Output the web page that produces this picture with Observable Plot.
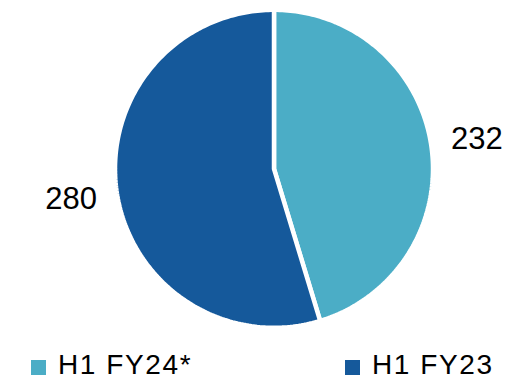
<!DOCTYPE html>
<html>
<head>
<meta charset="utf-8">
<script src="https://cdn.jsdelivr.net/npm/d3@7"></script>
<script src="https://cdn.jsdelivr.net/npm/@observablehq/plot@0.6"></script>
<style>
  html, body { margin: 0; padding: 0; background: #fff; }
  #chart { width: 506px; height: 381px; position: relative; overflow: hidden; font-family: "Liberation Sans", Arial, sans-serif; }
  .legend { position: absolute; left: 0; top: 349px; width: 506px; height: 32px; }
  .item { position: absolute; top: 0; display: flex; align-items: center; height: 32px; line-height: 32px; font-size: 28px; letter-spacing: 1.6px; color: #000; }
  .swatch { width: 15px; height: 15px; margin-right: 12px; margin-top: 4px; }
</style>
</head>
<body>
<div id="chart"></div>
<script>
// Half-year totals
const periods = ["H1 FY24*", "H1 FY23"];
const totals = [232, 280];
const colors = ["#4BADC6", "#15599B"];

const data = periods.map((p, i) => ({period: p, value: totals[i], color: colors[i]}));

// Slice angles, clockwise from 12 o'clock, in the original order
const arcs = d3.pie().value(d => d.value).sort(null)(data);

// Each slice as a closed outline in unit-circle coordinates
const outline = [];
arcs.forEach(a => {
  const steps = Math.max(2, Math.ceil((a.endAngle - a.startAngle) / (Math.PI / 180)));
  outline.push({period: a.data.period, x: 0, y: 0});
  for (let k = 0; k <= steps; k++) {
    const t = a.startAngle + (a.endAngle - a.startAngle) * k / steps;
    outline.push({period: a.data.period, x: Math.sin(t), y: Math.cos(t)});
  }
});

// Value labels just outside each slice
const labelR = 1.29;
const labels = arcs.map(a => {
  const m = (a.startAngle + a.endAngle) / 2;
  return {text: String(a.data.value), x: Math.sin(m) * labelR, y: Math.cos(m) * labelR};
});

const plot = Plot.plot({
  width: 506,
  height: 340,
  margin: 0,
  x: {domain: [-1, 1], range: [114.5, 432.5], axis: null},
  y: {domain: [-1, 1], range: [327.3, 9.3], axis: null},
  color: {domain: periods, range: colors},
  marks: [
    Plot.line(outline, {
      x: "x", y: "y", z: "period", fill: "period",
      stroke: "white", strokeWidth: 4.5, curve: "linear-closed", strokeLinejoin: "miter"
    }),
    Plot.text(labels, {
      x: "x", y: "y", text: "text",
      fontSize: 31, fill: "#000", fontFamily: "Liberation Sans, Arial, sans-serif"
    })
  ]
});

const chart = document.getElementById("chart");
chart.appendChild(plot);

// Legend below the pie
const legend = document.createElement("div");
legend.className = "legend";
const lefts = [31, 345];
data.forEach((d, i) => {
  const item = document.createElement("div");
  item.className = "item";
  item.style.left = lefts[i] + "px";
  const sw = document.createElement("span");
  sw.className = "swatch";
  sw.style.background = d.color;
  const tx = document.createElement("span");
  tx.textContent = d.period;
  item.appendChild(sw);
  item.appendChild(tx);
  legend.appendChild(item);
});
chart.appendChild(legend);
</script>
</body>
</html>
